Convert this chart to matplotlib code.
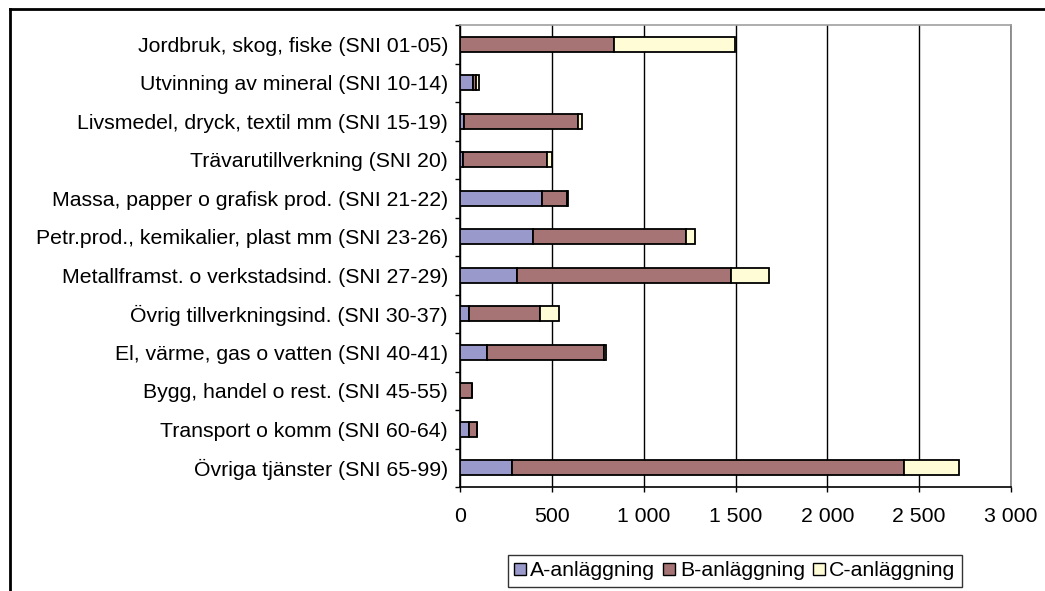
import matplotlib
matplotlib.use("Agg")
import matplotlib.pyplot as plt
from matplotlib.lines import Line2D
from matplotlib.ticker import FuncFormatter
import numpy as np

plt.rcParams['font.family'] = ['Liberation Sans', 'DejaVu Sans']

categories = [
    "Jordbruk, skog, fiske (SNI 01-05)",
    "Utvinning av mineral (SNI 10-14)",
    "Livsmedel, dryck, textil mm (SNI 15-19)",
    "Trävarutillverkning (SNI 20)",
    "Massa, papper o grafisk prod. (SNI 21-22)",
    "Petr.prod., kemikalier, plast mm (SNI 23-26)",
    "Metallframst. o verkstadsind. (SNI 27-29)",
    "Övrig tillverkningsind. (SNI 30-37)",
    "El, värme, gas o vatten (SNI 40-41)",
    "Bygg, handel o rest. (SNI 45-55)",
    "Transport o komm (SNI 60-64)",
    "Övriga tjänster (SNI 65-99)",
]
a_anl = [0, 73, 22, 15, 445, 395, 309, 51, 149, 0, 51, 283]
b_anl = [838, 12, 618, 461, 135, 834, 1167, 387, 635, 65, 42, 2135]
c_anl = [657, 20, 22, 26, 8, 53, 206, 100, 11, 0, 0, 301]
series_names = ["A-anläggning", "B-anläggning", "C-anläggning"]
colors = ["#9999CC", "#A67474", "#FFFCD6"]
xticks = [0, 500, 1000, 1500, 2000, 2500, 3000]

FS = 15.3
W, H = 1045, 591
fig = plt.figure(figsize=(W / 100, H / 100), dpi=100)
fig.patch.set_facecolor("white")

left, right, top, bottom = 460, 1011, 25, 487
ax = fig.add_axes([left / W, 1 - bottom / H, (right - left) / W, (bottom - top) / H])

y = np.arange(len(categories))
a = np.array(a_anl, dtype=float)
b = np.array(b_anl, dtype=float)
c = np.array(c_anl, dtype=float)
h = 0.4
ax.barh(y, a, height=h, color=colors[0], edgecolor="black", linewidth=1.3, zorder=3, label=series_names[0])
ax.barh(y, b, left=a, height=h, color=colors[1], edgecolor="black", linewidth=1.3, zorder=3, label=series_names[1])
ax.barh(y, c, left=a + b, height=h, color=colors[2], edgecolor="black", linewidth=1.3, zorder=3, label=series_names[2])

ax.set_xlim(0, 3000)
ax.set_ylim(len(categories) - 0.5, -0.5)
ax.set_xticks(xticks)
ax.xaxis.set_major_formatter(FuncFormatter(lambda v, p: f"{int(v):,}".replace(",", " ")))
ax.set_yticks(y)
ax.set_yticklabels(categories)
ax.set_yticks(np.arange(-0.5, len(categories), 1), minor=True)
ax.tick_params(axis="y", which="major", length=0, pad=8.6, labelsize=FS)
ax.tick_params(axis="y", which="minor", length=3.6, width=1, direction="out", color="black")
ax.tick_params(axis="x", which="major", length=3.6, width=1, direction="out", pad=11, labelsize=FS)

ax.grid(axis="x", color="black", linewidth=1, zorder=0)
ax.spines["left"].set_color("black")
ax.spines["left"].set_linewidth(1.2)
ax.spines["bottom"].set_color("black")
ax.spines["bottom"].set_linewidth(1.2)
ax.spines["top"].set_color("#A0A0A0")
ax.spines["right"].set_color("#808080")
ax.spines["top"].set_linewidth(1.2)
ax.spines["right"].set_linewidth(1.2)

handles = [plt.Line2D([], [], marker="s", linestyle="none", markersize=8,
                      markerfacecolor=colors[i], markeredgecolor="black", markeredgewidth=1)
           for i in range(3)]
leg = fig.legend(handles, series_names, loc="upper left",
                 bbox_to_anchor=(508 / W, 1 - 555 / H), ncol=3, fontsize=FS,
                 frameon=True, fancybox=False, handlelength=0.5, handletextpad=0.25,
                 columnspacing=0.4, borderpad=0.3, borderaxespad=0)
leg.get_frame().set_edgecolor("black")
leg.get_frame().set_linewidth(1)

# outer chart-area frame (left and top edges visible)
fig.add_artist(Line2D([10 / W, 10 / W], [0, 1 - 9 / H], color="black", linewidth=2, transform=fig.transFigure))
fig.add_artist(Line2D([10 / W, 1], [1 - 9 / H, 1 - 9 / H], color="black", linewidth=2, transform=fig.transFigure))

fig.savefig("out.png", dpi=100)
